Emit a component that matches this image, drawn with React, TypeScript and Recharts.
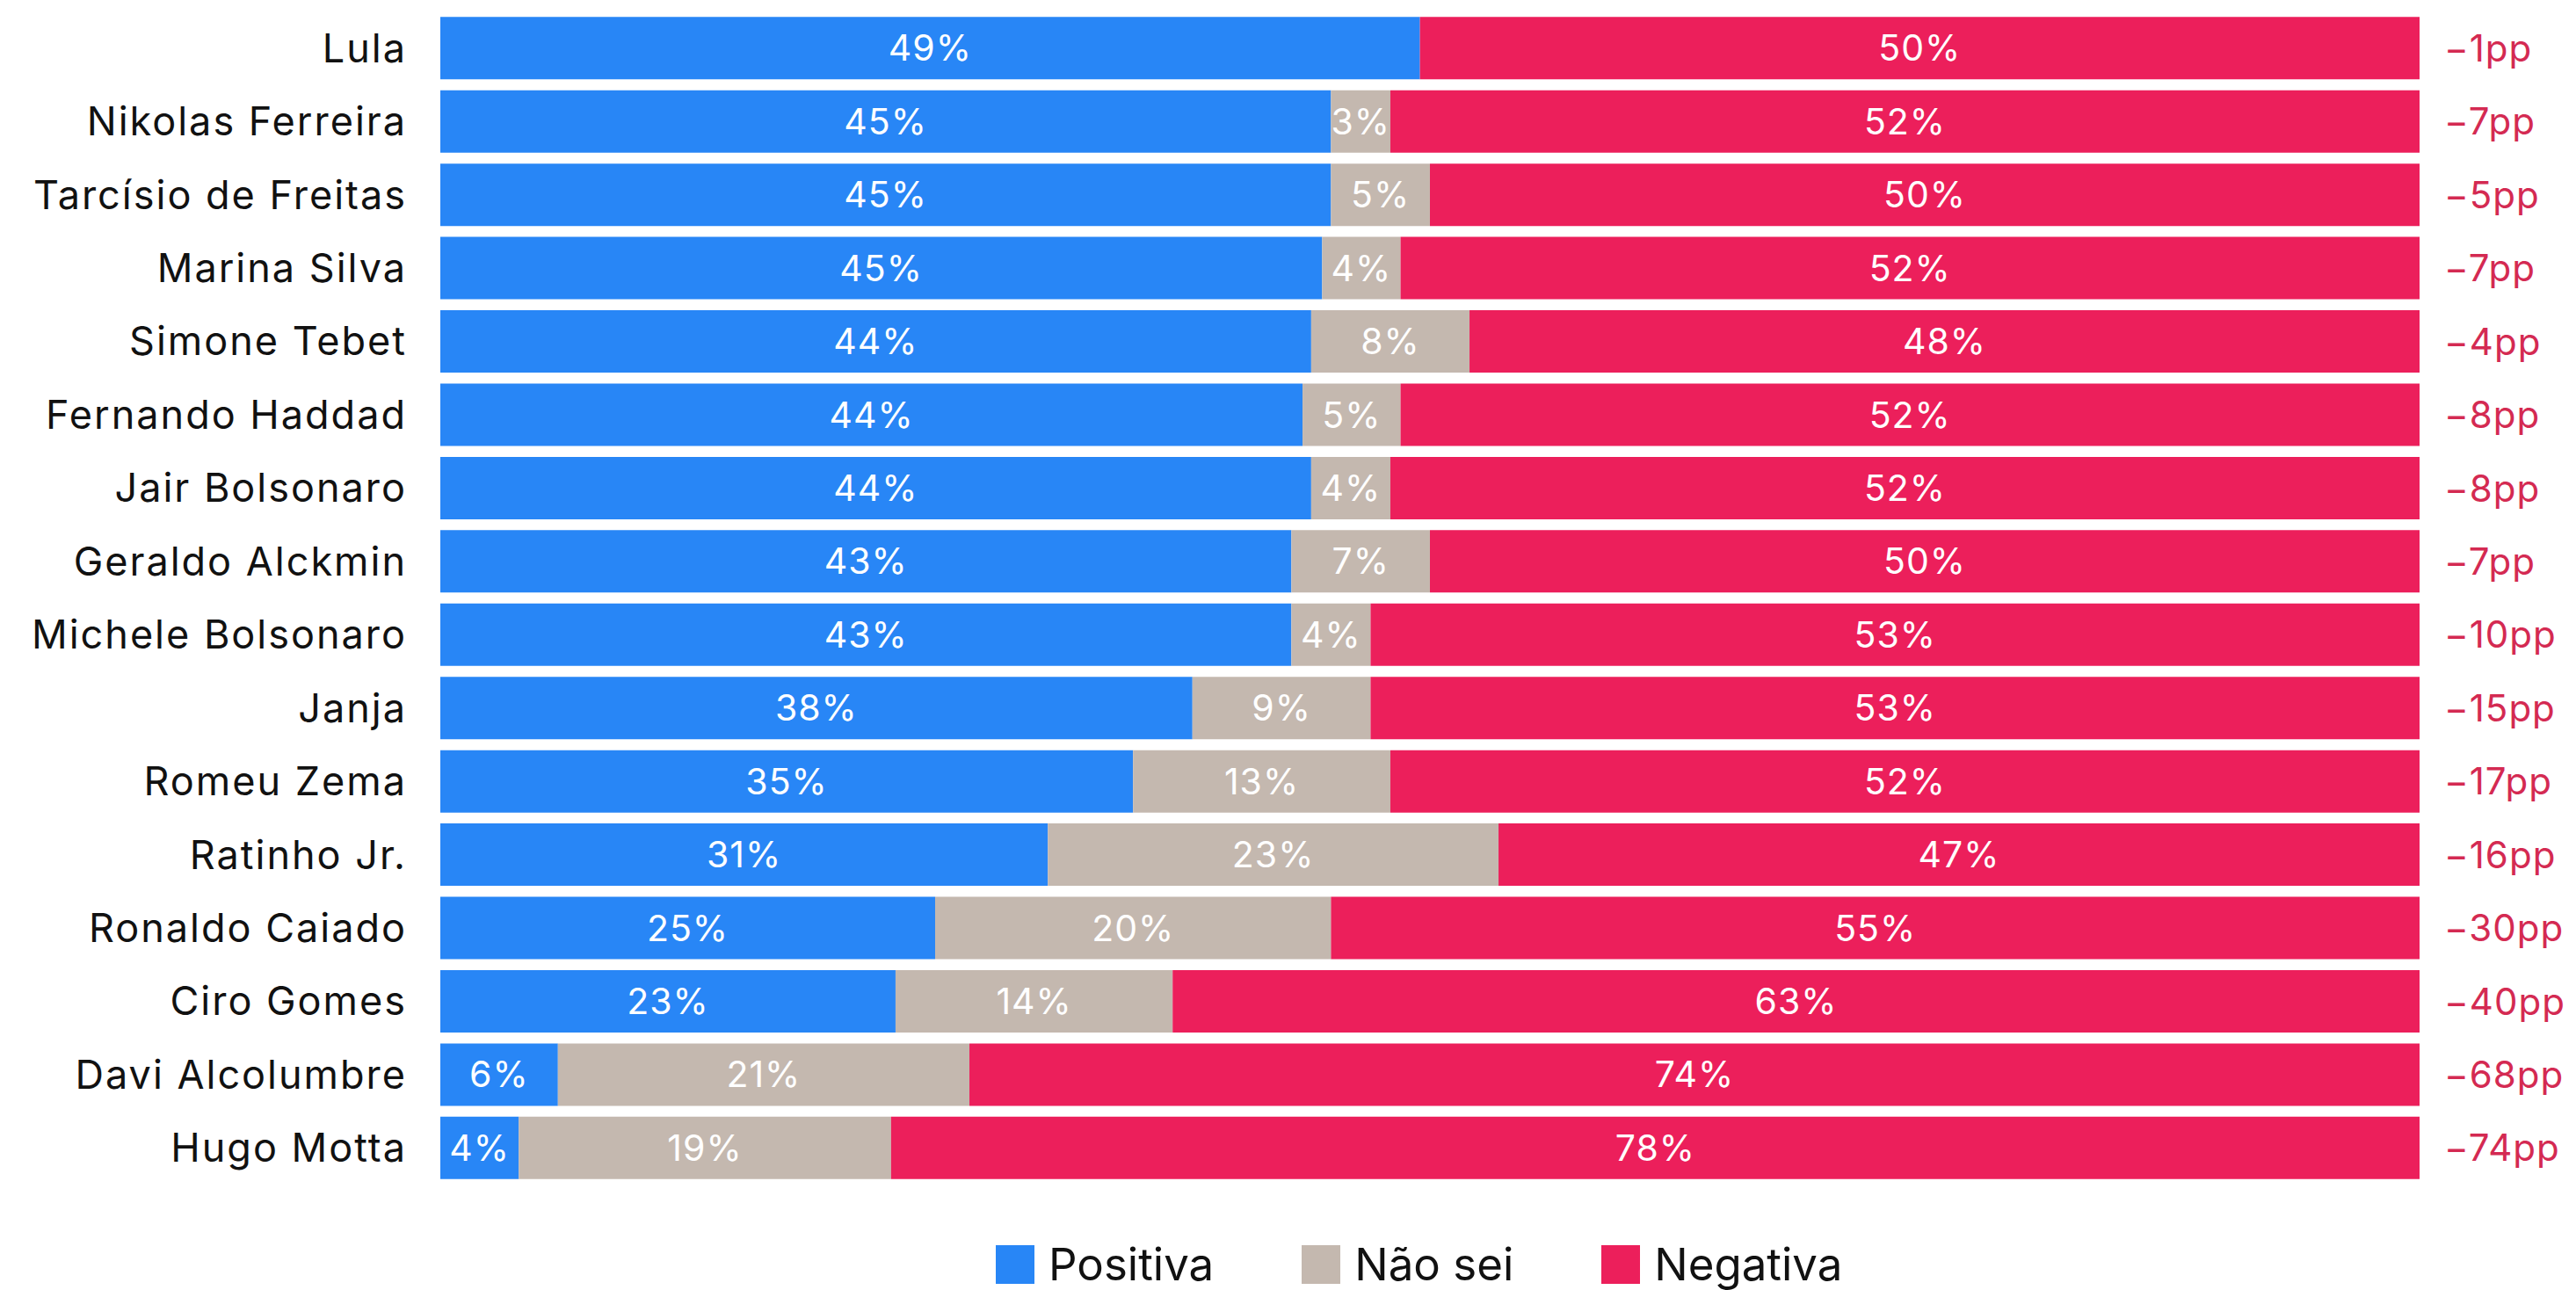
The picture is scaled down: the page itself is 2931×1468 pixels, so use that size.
import { BarChart, Bar, XAxis, YAxis, Legend, LabelList } from 'recharts'

document.body.style.margin = '0'

const names = [
  'Lula', 'Nikolas Ferreira', 'Tarcísio de Freitas', 'Marina Silva', 'Simone Tebet',
  'Fernando Haddad', 'Jair Bolsonaro', 'Geraldo Alckmin', 'Michele Bolsonaro', 'Janja',
  'Romeu Zema', 'Ratinho Jr.', 'Ronaldo Caiado', 'Ciro Gomes', 'Davi Alcolumbre', 'Hugo Motta',
]
const positiva = [49, 45, 45, 45, 44, 44, 44, 43, 43, 38, 35, 31, 25, 23, 6, 4]
const naoSei = [0, 3, 5, 4, 8, 5, 4, 7, 4, 9, 13, 23, 20, 14, 21, 19]
const negativa = [50, 52, 50, 52, 48, 52, 52, 50, 53, 53, 52, 47, 55, 63, 74, 78]
const saldo = [-1, -7, -5, -7, -4, -8, -8, -7, -10, -15, -17, -16, -30, -40, -68, -74]

const FONT = 'Inter, "Noto Sans", sans-serif'
const BLUE = '#2886f6'
const BEIGE = '#c4b8af'
const RED = '#ec1f5b'

const data = names.map((name, i) => ({
  name,
  positiva: positiva[i],
  naoSei: naoSei[i],
  negativa: negativa[i],
  saldo: saldo[i],
}))

const pct = (v: any) => (Number(v) > 0 ? `${v}%` : '')

const legendItems = [
  { label: 'Positiva', color: BLUE },
  { label: 'Não sei', color: BEIGE },
  { label: 'Negativa', color: RED },
]

function renderLegend() {
  return (
    <div style={{ display: 'flex', alignItems: 'center', gap: 100, marginLeft: 1133, fontFamily: FONT, height: 50 }}>
      {legendItems.map((it) => (
        <div key={it.label} style={{ display: 'flex', alignItems: 'center', gap: 16 }}>
          <div style={{ width: 44, height: 44, background: it.color }} />
          <span style={{ fontSize: 51, color: '#111', lineHeight: '50px' }}>{it.label}</span>
        </div>
      ))}
    </div>
  )
}

function SaldoLabel(props: any) {
  const { x, y, width, height, value } = props
  return (
    <text
      x={x + width + 28}
      y={y + height / 2}
      dy="0.36em"
      textAnchor="start"
      fill="#d42a52"
      fontSize={42}
      fontFamily={FONT}
      letterSpacing={1}
    >
      {`${value}pp`.replace('-', '−')}
    </text>
  )
}

export default function App() {
  return (
    <div style={{ width: 2931, height: 1468, background: '#fff' }}>
      <BarChart
        width={2931}
        height={1468}
        data={data}
        layout="vertical"
        stackOffset="expand"
        barCategoryGap="7.5%"
        margin={{ top: 13, right: 178, bottom: 120, left: 0 }}
      >
        <XAxis type="number" hide domain={[0, 1]} />
        <YAxis
          type="category"
          dataKey="name"
          width={501}
          axisLine={false}
          tickLine={false}
          tickSize={0}
          tickMargin={38}
          tick={{ fill: '#111', fontSize: 45, fontFamily: FONT, letterSpacing: 2 }}
        />
        <Bar dataKey="positiva" stackId="a" fill={BLUE} isAnimationActive={false}>
          <LabelList dataKey="positiva" position="center" formatter={pct} fill="#fff" fontSize={41} fontFamily={FONT} letterSpacing={1} />
        </Bar>
        <Bar dataKey="naoSei" stackId="a" fill={BEIGE} isAnimationActive={false}>
          <LabelList dataKey="naoSei" position="center" formatter={pct} fill="#fff" fontSize={41} fontFamily={FONT} letterSpacing={1} />
        </Bar>
        <Bar dataKey="negativa" stackId="a" fill={RED} isAnimationActive={false}>
          <LabelList dataKey="negativa" position="center" formatter={pct} fill="#fff" fontSize={41} fontFamily={FONT} letterSpacing={1} />
          <LabelList dataKey="saldo" content={SaldoLabel} />
        </Bar>
        <Legend
          layout="horizontal"
          verticalAlign="middle"
          align="center"
          wrapperStyle={{ top: 1414, left: 0, width: 2931, height: 50 }}
          content={renderLegend}
        />
      </BarChart>
    </div>
  )
}
